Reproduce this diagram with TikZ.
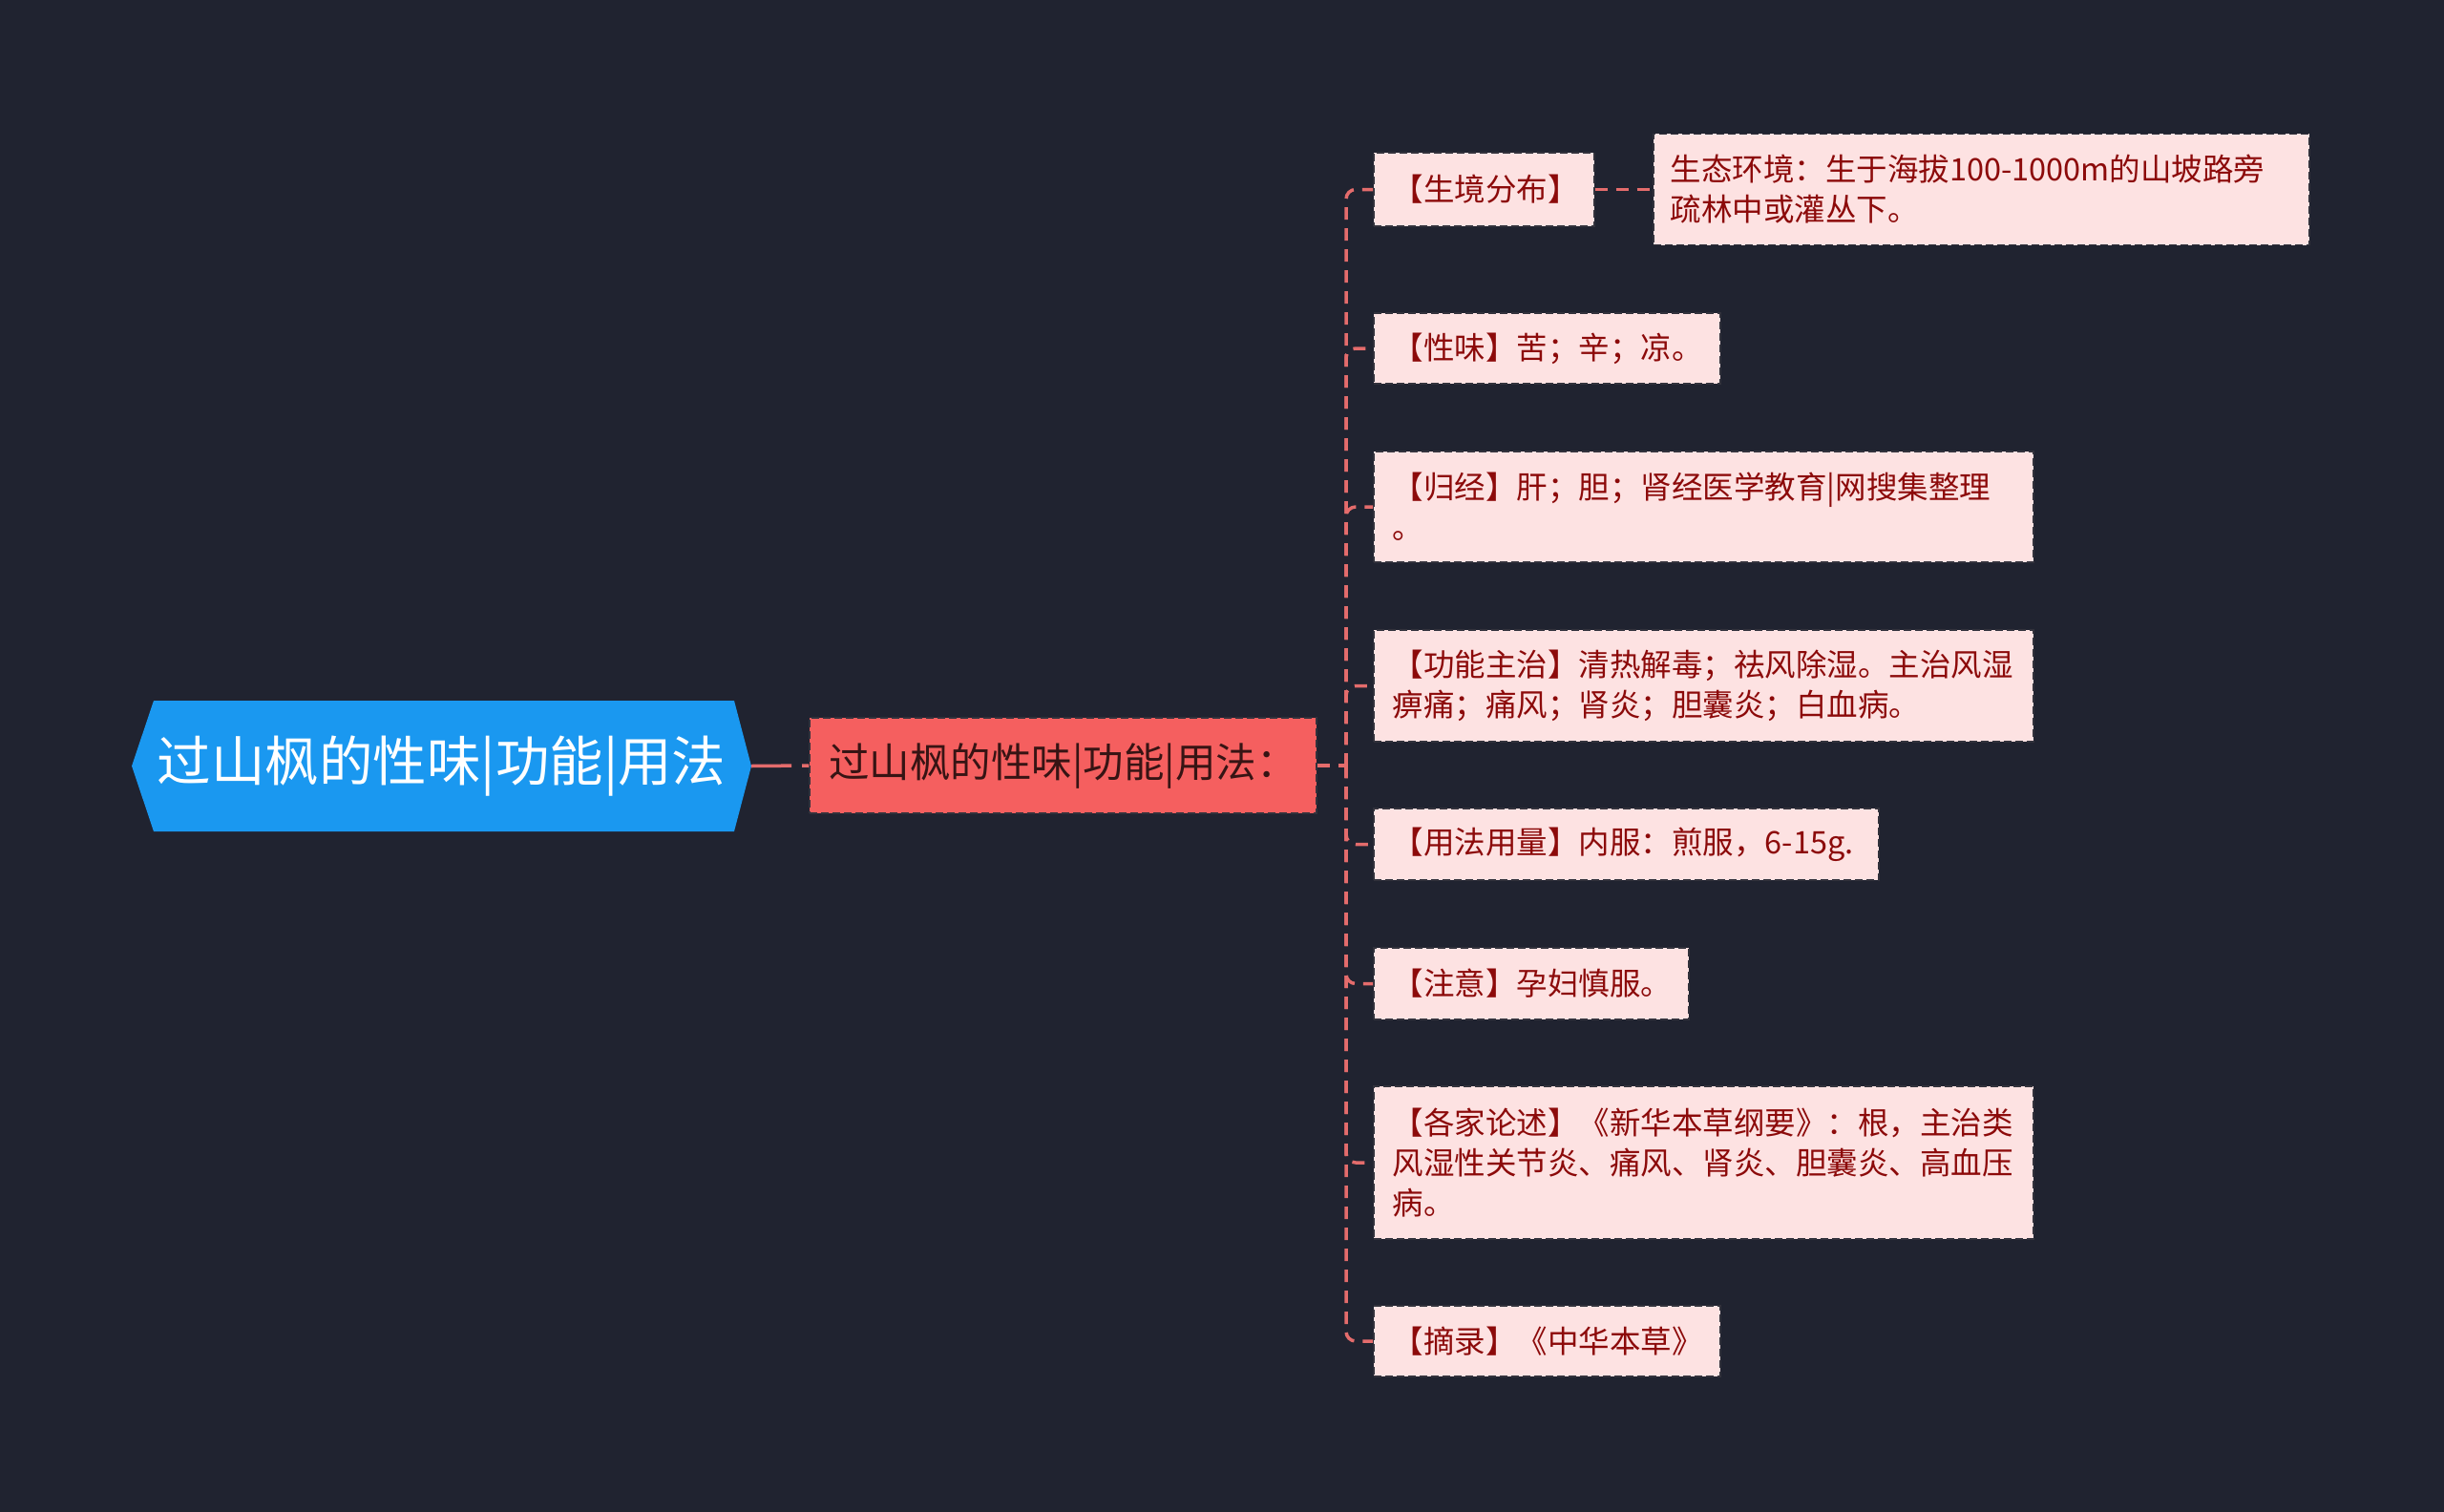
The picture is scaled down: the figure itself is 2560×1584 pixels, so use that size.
\documentclass[tikz,border=0pt]{standalone}
\usepackage{fontspec}
\setmainfont{Noto Sans CJK SC}
\definecolor{bg}{RGB}{32,35,48}
\definecolor{rootc}{RGB}{26,152,240}
\definecolor{midc}{RGB}{245,95,95}
\definecolor{leafc}{RGB}{253,226,226}
\definecolor{leaftext}{RGB}{140,10,10}
\definecolor{midtext}{RGB}{55,20,20}
\definecolor{linkc}{RGB}{228,108,108}
\definecolor{bord}{RGB}{50,50,60}
\tikzset{
  leaf/.style={fill=leafc, draw=bord, line width=1.5pt, dash pattern=on 8pt off 4pt,
    text=leaftext, font=\fontsize{32.5}{42}\selectfont, align=left,
    inner xsep=20pt, inner ysep=0pt, anchor=west},
  link/.style={draw=linkc, line width=3.5pt, dash pattern=on 13pt off 9pt},
}
\begin{document}
\begin{tikzpicture}[x=1pt,y=-1pt]
\useasboundingbox (0,0) rectangle (2560,1584);
\fill[bg] (0,0) rectangle (2560,1584);

% root hexagon
\fill[rootc] (138,802.5) -- (161,734) -- (769,734) -- (787,802.5) -- (769,871) -- (161,871) -- cycle;
\node[text=white, font=\fontsize{56.5}{60}\selectfont, minimum width=649pt, minimum height=137pt, inner sep=0pt] (root) at (462.5,802.5) {过山枫的性味|功能|用法};

% middle
\node[fill=midc, draw=bord, line width=1.5pt, dash pattern=on 8pt off 4pt, text=midtext,
  font=\fontsize{42.5}{48}\selectfont, minimum width=531pt, minimum height=100pt, inner sep=0pt]
  (mid) at (1113.5,802) {过山枫的性味|功能|用法：};

% leaves
\node[leaf, text width=191pt, minimum height=77pt] (c1) at (1438,198.5) {【生境分布】};
\node[leaf, inner xsep=18pt, text width=651pt, minimum height=116pt] (note) at (1731,198.5) {生态环境：生于海拔100-1000m的山坡路旁\\疏林中或灌丛下。};
\node[leaf, text width=323pt, minimum height=74pt] (c2) at (1438,365) {【性味】苦；辛；凉。};
\node[leaf, text width=651pt, minimum height=116pt] (c3) at (1438,531) {【归经】肝；胆；肾经医学教育|网搜集整理\\。};
\node[leaf, text width=651pt, minimum height=117pt] (c4) at (1438,718.5) {【功能主治】清热解毒；祛风除湿。主治风湿\\痹痛；痛风；肾炎；胆囊炎；白血病。};
\node[leaf, text width=489pt, minimum height=75pt] (c5) at (1438,884.5) {【用法用量】内服：煎服，6-15g.};
\node[leaf, text width=290pt, minimum height=75pt] (c6) at (1438,1030.5) {【注意】孕妇慎服。};
\node[leaf, text width=651pt, minimum height=160pt] (c7) at (1438,1218) {【各家论述】《新华本草纲要》：根，主治类\\风湿性关节炎、痛风、肾炎、胆囊炎、高血压\\病。};
\node[leaf, text width=323pt, minimum height=74pt] (c8) at (1438,1405) {【摘录】《中华本草》};

% connectors
\draw[draw=linkc, line width=3.5pt, dash pattern=on 42pt off 11pt] (root.east) -- (mid.west);
\coordinate (j) at (1410,802);
\draw[link] (mid.east) -- (j);
\foreach \c in {c1,c2,c3,c4,c5,c6,c7,c8}{
  \draw[link, rounded corners=10pt] (j) |- (\c.west);
}
\draw[link] (c1.east) -- (note.west);
\end{tikzpicture}
\end{document}
